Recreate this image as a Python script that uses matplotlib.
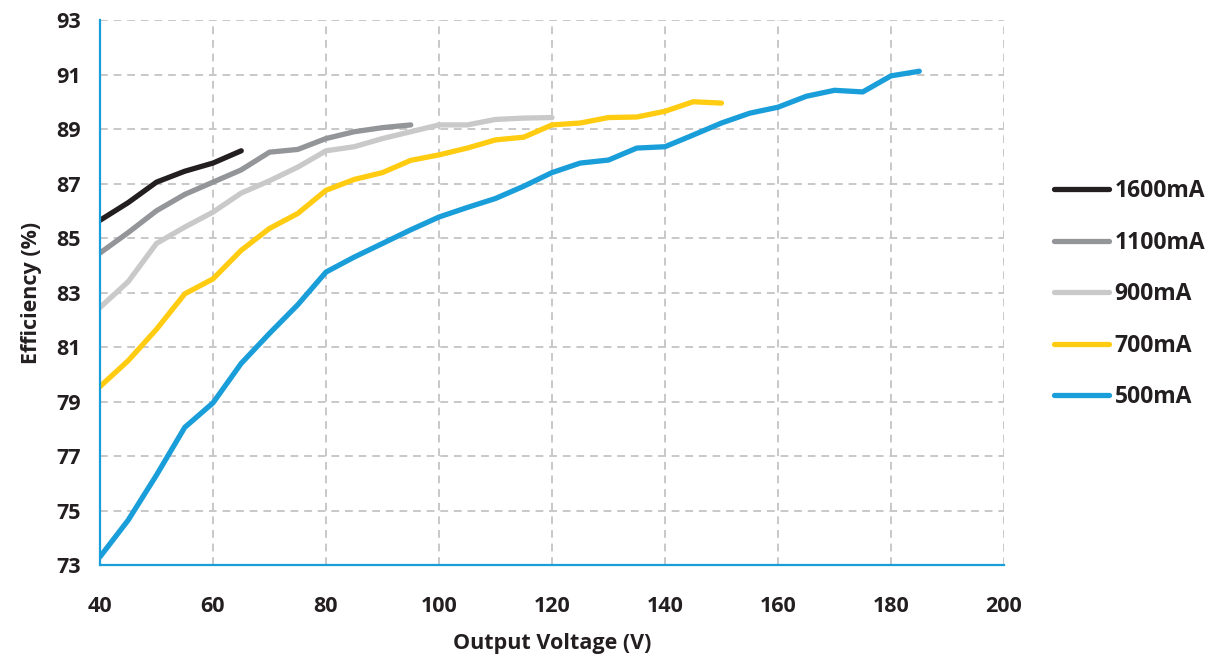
import matplotlib
matplotlib.use("Agg")
import matplotlib.pyplot as plt

v_1600 = [40, 45, 50, 55, 60, 65]
e_1600 = [85.65, 86.3, 87.05, 87.45, 87.75, 88.2]

v_1100 = [40, 45, 50, 55, 60, 65, 70, 75, 80, 85, 90, 95]
e_1100 = [84.45, 85.2, 86.0, 86.6, 87.05, 87.5, 88.15, 88.25, 88.65, 88.9, 89.05, 89.15]

v_900 = [40, 45, 50, 55, 60, 65, 70, 75, 80, 85, 90, 95, 100, 105, 110, 115, 120]
e_900 = [82.45, 83.4, 84.8, 85.4, 85.95, 86.65, 87.1, 87.6, 88.2, 88.35, 88.65, 88.9,
         89.15, 89.15, 89.35, 89.4, 89.42]

v_700 = [40, 45, 50, 55, 60, 65, 70, 75, 80, 85, 90, 95, 100, 105, 110, 115, 120,
         125, 130, 135, 140, 145, 150]
e_700 = [79.55, 80.5, 81.65, 82.95, 83.5, 84.55, 85.35, 85.9, 86.75, 87.15, 87.4, 87.85,
         88.05, 88.3, 88.6, 88.7, 89.15, 89.22, 89.42, 89.44, 89.65, 90.0, 89.95]

v_500 = [40, 45, 50, 55, 60, 65, 70, 75, 80, 85, 90, 95, 100, 105, 110, 115, 120,
         125, 130, 135, 140, 145, 150, 155, 160, 165, 170, 175, 180, 185]
e_500 = [73.3, 74.65, 76.3, 78.05, 78.95, 80.4, 81.5, 82.55, 83.75, 84.3, 84.8, 85.3,
         85.77, 86.12, 86.45, 86.9, 87.4, 87.75, 87.86, 88.3, 88.35, 88.78, 89.22,
         89.58, 89.8, 90.2, 90.42, 90.36, 90.95, 91.12]

series = [("1600mA", v_1600, e_1600, "#231f20"),
          ("1100mA", v_1100, e_1100, "#939598"),
          ("900mA", v_900, e_900, "#c9c9c9"),
          ("700mA", v_700, e_700, "#ffcc11"),
          ("500mA", v_500, e_500, "#1a9ed9")]

plt.rcParams["font.family"] = ["Open Sans", "DejaVu Sans"]
plt.rcParams["font.weight"] = "bold"

fig = plt.figure(figsize=(12.25, 6.62), dpi=100)
ax = fig.add_axes([100 / 1225, 1 - 565 / 662, 904 / 1225, 545 / 662])

for name, v, e, c in series:
    ax.plot(v, e, color=c, lw=3.8, label=name, solid_capstyle="round",
            solid_joinstyle="round")

ax.set_xlim(40, 200)
ax.set_ylim(73, 93)
ax.set_xticks(range(40, 201, 20))
ax.set_yticks(range(73, 94, 2))
ax.grid(True, color="#c8c8c8", ls=(0, (4, 3)), lw=1.4)
ax.set_axisbelow(True)
for s in ("top", "right"):
    ax.spines[s].set_visible(False)
for s in ("left", "bottom"):
    ax.spines[s].set_color("#1a9ed9")
    ax.spines[s].set_linewidth(1.6)
ax.tick_params(length=0, labelsize=15.5, colors="#231f20", pad=14)
ax.tick_params(axis="x", pad=22)
for lbl in ax.get_xticklabels() + ax.get_yticklabels():
    lbl.set_fontweight("bold")

ax.set_xlabel("Output Voltage (V)", fontsize=15.5, fontweight="bold", color="#231f20",
              labelpad=12)
ax.set_ylabel("Efficiency (%)", fontsize=15.5, fontweight="bold", color="#231f20",
              labelpad=10)

leg = ax.legend(loc="upper left", bbox_to_anchor=(1.045, 0.725), frameon=False,
                fontsize=16.5, handlelength=2.4, handletextpad=0.25, labelspacing=1.2,
                borderaxespad=0)
for t in leg.get_texts():
    t.set_color("#231f20")
    t.set_fontweight("bold")

fig.savefig("out.png", dpi=100)
